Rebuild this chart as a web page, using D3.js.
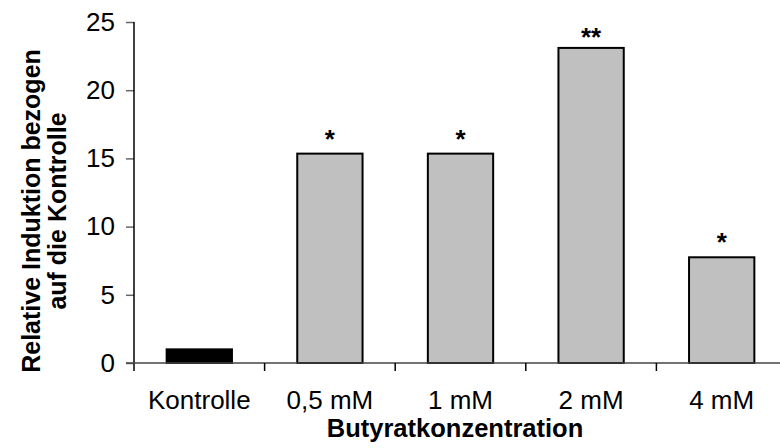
<!DOCTYPE html>
<html>
<head>
<meta charset="utf-8">
<script src="https://cdn.jsdelivr.net/npm/d3@7"></script>
<style>
  body { margin: 0; background: #fff; }
  svg { font-family: "Liberation Sans", Arial, sans-serif; }
</style>
</head>
<body>
<div id="chart"></div>
<script>
const categories = ["Kontrolle", "0,5 mM", "1 mM", "2 mM", "4 mM"];
const values = [1.0, 15.35, 15.35, 23.1, 7.75];
const significance = ["", "*", "*", "**", "*"];
const yTicks = [0, 5, 10, 15, 20, 25];
const barColors = ["#000000", "#c0c0c0", "#c0c0c0", "#c0c0c0", "#c0c0c0"];

const width = 780, height = 448;

const svg = d3.select("#chart")
    .append("svg")
    .attr("width", width)
    .attr("height", height);

const x = d3.scaleBand()
    .domain(categories)
    .range([134, 787])
    .paddingInner(0.5)
    .paddingOuter(0.25);

const y = d3.scaleLinear()
    .domain([0, 25])
    .range([363, 22]);

// bars
svg.selectAll(".bar")
    .data(values)
    .enter().append("rect")
    .attr("class", "bar")
    .attr("x", (d, i) => x(categories[i]))
    .attr("y", d => y(d))
    .attr("width", x.bandwidth())
    .attr("height", d => y(0) - y(d))
    .attr("fill", (d, i) => barColors[i])
    .attr("stroke", "#000")
    .attr("stroke-width", 2);

// significance stars (kept inside the plot area)
svg.selectAll(".star")
    .data(values)
    .enter().append("text")
    .attr("class", "star")
    .attr("x", (d, i) => x(categories[i]) + x.bandwidth() / 2)
    .attr("y", d => Math.max(y(d) - 6, y(25) + 24))
    .attr("text-anchor", "middle")
    .style("font-size", "26px")
    .style("font-weight", "bold")
    .text((d, i) => significance[i]);

// y axis
const yAxis = svg.append("g")
    .attr("transform", "translate(134,0)")
    .call(d3.axisLeft(y).tickValues(yTicks).tickSize(8).tickPadding(11));
yAxis.select(".domain").remove();
yAxis.selectAll(".tick line").attr("stroke", "#666").attr("stroke-width", 1.5);
yAxis.selectAll(".tick text")
    .style("font-size", "26px")
    .attr("fill", "#000");
svg.append("line")
    .attr("x1", 134).attr("x2", 134)
    .attr("y1", y(25)).attr("y2", y(0) + 8)
    .attr("stroke", "#000")
    .attr("stroke-width", 1.5);

// x axis
svg.append("line")
    .attr("x1", 126).attr("x2", 787)
    .attr("y1", y(0)).attr("y2", y(0))
    .attr("stroke", "#444")
    .attr("stroke-width", 1.5);
svg.selectAll(".xtick")
    .data(categories.slice(1))
    .enter().append("line")
    .attr("class", "xtick")
    .attr("x1", d => x(d) - x.step() * 0.25)
    .attr("x2", d => x(d) - x.step() * 0.25)
    .attr("y1", y(0))
    .attr("y2", y(0) + 8)
    .attr("stroke", "#000")
    .attr("stroke-width", 1.5);
svg.selectAll(".xlabel")
    .data(categories)
    .enter().append("text")
    .attr("class", "xlabel")
    .attr("x", d => x(d) + x.bandwidth() / 2)
    .attr("y", 409)
    .attr("text-anchor", "middle")
    .style("font-size", "26px")
    .text(d => d);

// axis titles
svg.append("text")
    .attr("x", 455)
    .attr("y", 437)
    .attr("text-anchor", "middle")
    .style("font-size", "25.5px")
    .style("font-weight", "bold")
    .text("Butyratkonzentration");

const yTitle = svg.append("text")
    .attr("transform", "translate(40,211) rotate(-90)")
    .attr("text-anchor", "middle")
    .style("font-size", "25px")
    .style("font-weight", "bold");
yTitle.append("tspan").attr("x", 0).attr("y", 0).text("Relative Induktion bezogen");
yTitle.append("tspan").attr("x", 0).attr("y", 26).text("auf die Kontrolle");
</script>
</body>
</html>
